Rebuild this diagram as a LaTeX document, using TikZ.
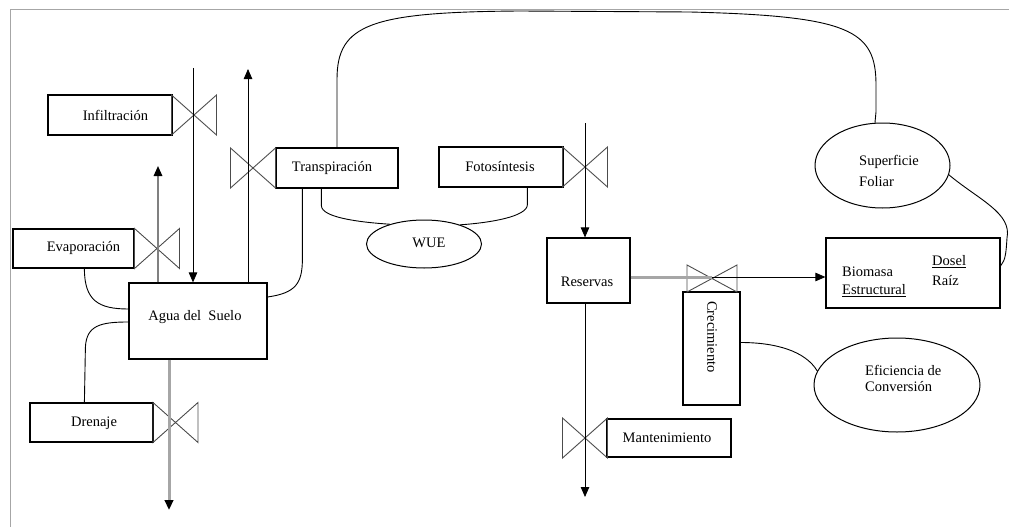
\documentclass[tikz,border=0pt]{standalone}
\usepackage{fontspec}
\setmainfont{Liberation Serif}
\usetikzlibrary{shapes.geometric,arrows.meta,calc}
\begin{document}
\begin{tikzpicture}[x=1pt,y=-1pt,
  box/.style={draw=black,line width=1.2pt,inner sep=0pt},
  oval/.style={draw=black,ellipse,line width=1pt,inner sep=0pt},
  txt/.style={font=\fontsize{14.5}{16}\selectfont,inner sep=0pt},
  valveline/.style={draw=black!70,line width=0.9pt},
  conn/.style={draw=black,line width=0.9pt},
  flow/.style={draw=black,line width=0.8pt,-{Triangle[length=10pt,width=8.5pt]}},
  eflow/.style={draw=black!50,line width=1.6pt,-{Triangle[length=10pt,width=8.5pt,color=black]}},
  gflow/.style={draw=black!35,line width=3pt,-{Triangle[length=10pt,width=8.5pt,color=black]}},
  gline/.style={draw=black!35,line width=3pt},
  valve/.pic={\draw[valveline] (-22.5,-20) -- (22.5,20) -- (22.5,-20) -- (-22.5,20) -- cycle;}
]
\useasboundingbox (0,0) rectangle (1009,527);
% frame
\draw[black!35,line width=0.8pt] (10.5,527) -- (10.5,9) -- (1009,9);

% boxes
\node[box,minimum width=124pt,minimum height=40pt] (inf) at (110,115) {};
\node[txt] (infT) at (115.5,115) {Infiltración};
\node[box,minimum width=122pt,minimum height=40pt] (trans) at (337,168) {};
\node[txt] (transT) at (332,168) {Transpiración};
\node[box,minimum width=121pt,minimum height=39pt] (evap) at (73.5,248.5) {};
\node[txt] (evapT) at (83.5,248) {Evaporación};
\node[box,minimum width=138pt,minimum height=76pt] (agua) at (198,321) {};
\node[txt] (aguaT) at (195,317) {Agua\ del\ \ Suelo};
\node[box,minimum width=123pt,minimum height=39pt] (dren) at (91.5,422.5) {};
\node[txt] (drenT) at (94,423) {Drenaje};
\node[box,minimum width=124pt,minimum height=40pt] (foto) at (501,167) {};
\node[txt] (fotoT) at (500,167) {Fotosíntesis};
\node[box,minimum width=83pt,minimum height=65pt] (res) at (588.5,270.5) {};
\node[txt] (resT) at (587,282) {Reservas};
\node[box,minimum width=124pt,minimum height=38pt] (mant) at (669,438) {};
\node[txt] (mantT) at (667,438) {Mantenimiento};
\node[box,minimum width=57pt,minimum height=113pt] (crec) at (711.5,348.5) {};
\node[txt,rotate=-90] (crecT) at (712,337) {Crecimiento};
\node[box,minimum width=174pt,minimum height=70pt] (bio) at (913,273) {};
\node[txt,anchor=west] (bioT1) at (842,272) {Biomasa};
\node[txt,anchor=west] (bioT2) at (842,291) {\underline{Estructural}};
\node[txt,anchor=west] (bioT3) at (932,262) {\underline{Dosel}};
\node[txt,anchor=west] (bioT4) at (932,281) {Raíz};

% ovals
\node[oval,minimum width=115pt,minimum height=48pt] (wue) at (424,244) {};
\node[txt] (wueT) at (429,243) {WUE};
\node[oval,minimum width=135pt,minimum height=85pt] (sup) at (882.5,165.5) {};
\node[txt,anchor=west] (supT1) at (859,162) {Superficie};
\node[txt,anchor=west] (supT2) at (859,182) {Foliar};
\node[oval,minimum width=166pt,minimum height=94pt] (efi) at (897,385) {};
\node[txt,anchor=west] (efiT1) at (865,370) {Eficiencia de};
\node[txt,anchor=west] (efiT2) at (865,387) {Conversión};

% valves
\pic (vInf) at (194,115) {valve};
\pic (vTrans) at (253,168) {valve};
\pic (vEvap) at (157,248.5) {valve};
\pic (vDren) at (175.5,422.5) {valve};
\pic (vFoto) at (585,167) {valve};
\pic (vMant) at (585,438) {valve};
\coordinate (vCrecC) at (712,277);
\draw[valveline] ($(vCrecC)+(-25,-12)$) -- ($(vCrecC)+(25,15)$) -- ($(vCrecC)+(25,-12)$) -- ($(vCrecC)+(-25,15)$) -- cycle;

% flows
\coordinate (infTop) at (193,68);
\draw[flow] (infTop) -- (infTop |- agua.north);
\coordinate (transTop) at (248,69);
\draw[flow] (agua.north -| transTop) -- (transTop);
\coordinate (evapTop) at (158,166);
\draw[eflow] (agua.north -| evapTop) -- (evapTop);
\coordinate (drenBot) at (169,510);
\draw[gflow] (agua.south -| drenBot) -- (drenBot);
\coordinate (fotoTop) at (585,123);
\draw[flow] (fotoTop) -- (fotoTop |- res.north);
\coordinate (mantBot) at (585,497);
\draw[flow] (res.south -| mantBot) -- (mantBot);
\draw[gline] (res.east |- vCrecC) -- (vCrecC);
\draw[flow] (vCrecC) -- (vCrecC -| bio.west);

% information links
\draw[conn] ($(evap.south west)+(72,0)$) .. controls +(0,32) and +(-30,0) .. ($(agua.west)+(0,-12)$);
\draw[conn] ($(dren.north west)+(55,0)$) -- ++(1,-55) .. controls +(1,-22) and +(-28,0) .. ($(agua.west)+(0,1)$);
\draw[conn] ($(agua.east)+(0,-24)$) .. controls +(28,-4) and +(0,25) .. ($(trans.south west)+(27,70)$) -- ($(trans.south west)+(27,0)$);
\draw[conn] ($(trans.south west)+(46,0)$) -- ++(0,17) .. controls +(0,12) and +(-30,-2) .. (wue.150);
\draw[conn] ($(foto.south west)+(89,0)$) -- ++(0,17) .. controls +(0,12) and +(30,-2) .. (wue.28);
\draw[conn] (trans.north) -- ++(0,-68) .. controls +(0,-55) and +(-150,1) .. (520,11) -- (690,12) .. controls +(160,4) and +(0,-55) .. (876,85) -- (876,112) .. controls +(0,6) and +(1,-6) .. (sup.100);
\draw[conn] (sup.-8) .. controls +(30,25) and +(5,-25) .. (1007,238) .. controls +(-1,15) and +(5,-6) .. ($(bio.north east)!0.4!(bio.south east)$);
\draw[conn] ($(crec.east)+(0,-6)$) .. controls +(35,0) and +(-12,-20) .. (efi.170);
\end{tikzpicture}
\end{document}
